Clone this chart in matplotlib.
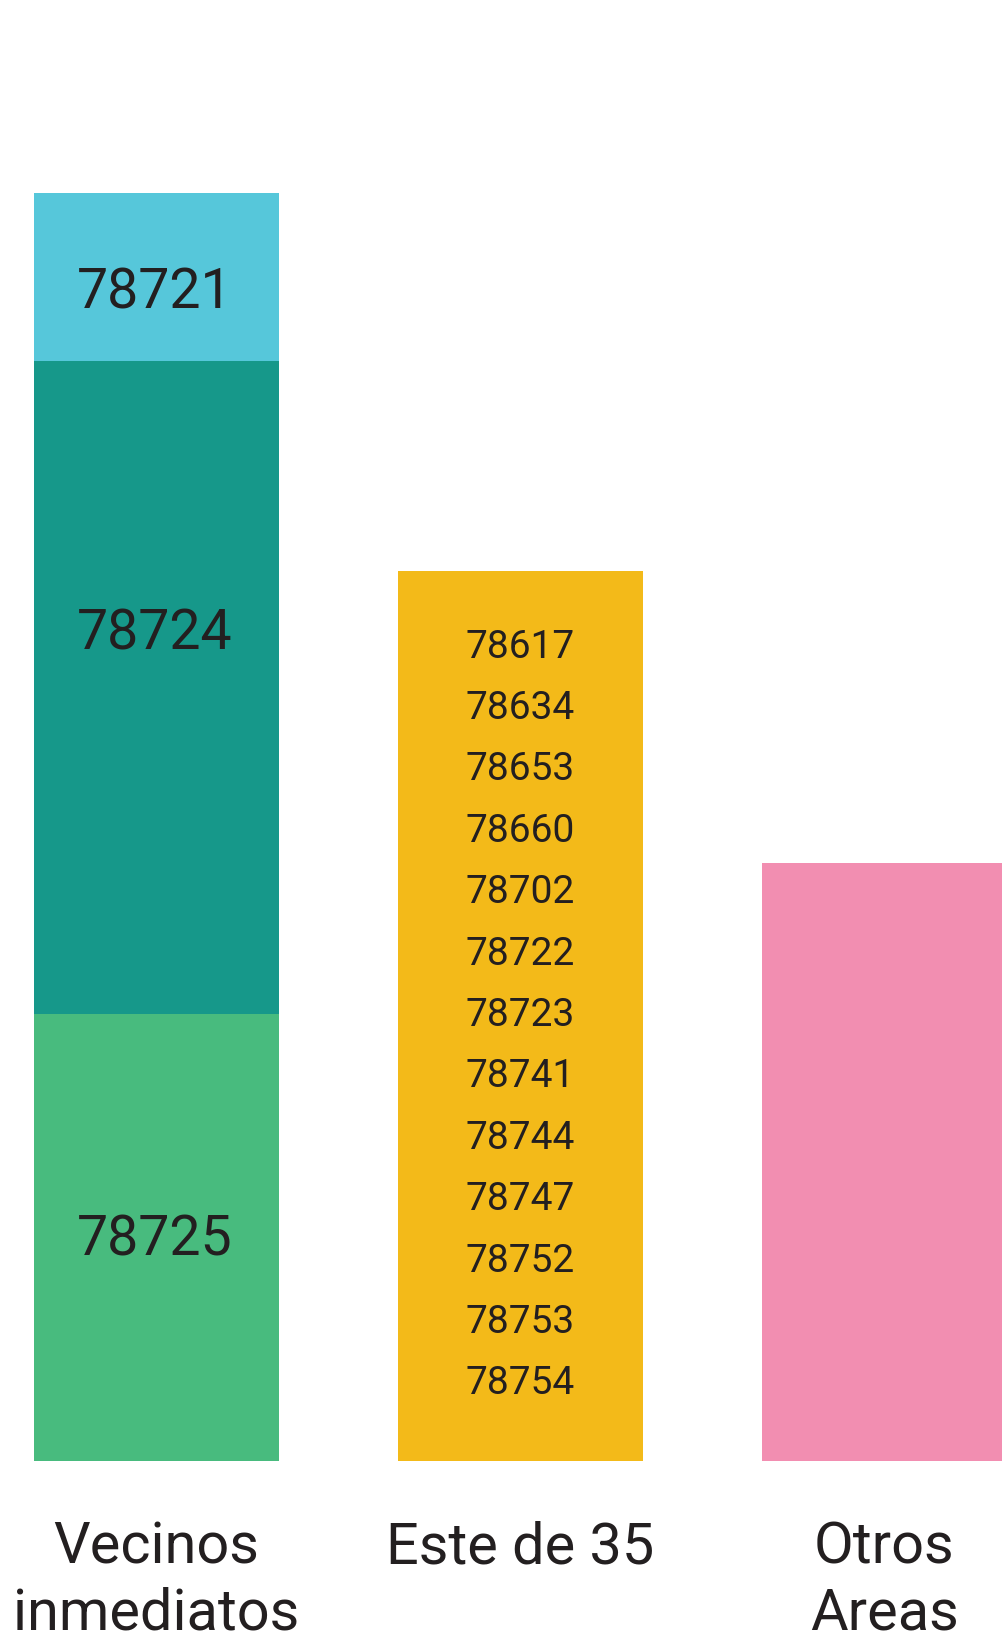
import numpy as np
import matplotlib.pyplot as plt

# data (share of total)
categories = ['Vecinos\ninmediatos', 'Este de 35', 'Otros\nAreas']
vecinos_zips = ['78725', '78724', '78721']      # bottom -> top
vecinos_vals = [16.2, 23.7, 6.1]
vecinos_cols = ['#48bb7e', '#16988a', '#56c7da']
este_val = 32.3
otros_val = 21.7
este_zips = ['78617', '78634', '78653', '78660', '78702', '78722', '78723',
             '78741', '78744', '78747', '78752', '78753', '78754']

plt.rcParams['font.family'] = ['Roboto', 'DejaVu Sans']
txt = '#231f20'

fig = plt.figure(figsize=(10.02, 16.52), dpi=100)
ax = fig.add_axes([0, 191/1652, 1, 1461/1652])

x = np.arange(len(categories))
w = 0.674

# stacked first bar
bottom = 0
label_pos = [0.494, 0.582, 0.408]   # where the zip sits inside each segment
for v, c, z, f in zip(vecinos_vals, vecinos_cols, vecinos_zips, label_pos):
    ax.bar(x[0], v, w, bottom=bottom, color=c, linewidth=0)
    ax.text(x[0] - 0.005, bottom + v*f, z, ha='center', va='center', fontsize=40,
            color=txt)
    bottom += v

ax.bar(x[1], este_val, w, color='#f3ba19', linewidth=0)
ax.bar(x[2], otros_val, w, color='#f28eb1', linewidth=0)

for i, z in enumerate(este_zips):
    ax.annotate(z, (x[1] - 0.15, este_val), xycoords='data',
                xytext=(0, -(76.5 + i*61.4)*0.72), textcoords='offset points',
                ha='left', va='center', fontsize=28, color=txt)

ax.set_xlim(-0.43, 2.324)
ax.set_ylim(0, sum(vecinos_vals) * 1461/1268)
ax.set_xticks(x, categories)
ax.tick_params(axis='x', length=0, pad=43, labelsize=41.5, labelcolor=txt)
for t in ax.get_xticklabels():
    t.set_linespacing(1.24)
ax.set_yticks([])
for s in ax.spines.values():
    s.set_visible(False)

fig.savefig('out.png', dpi=100)
